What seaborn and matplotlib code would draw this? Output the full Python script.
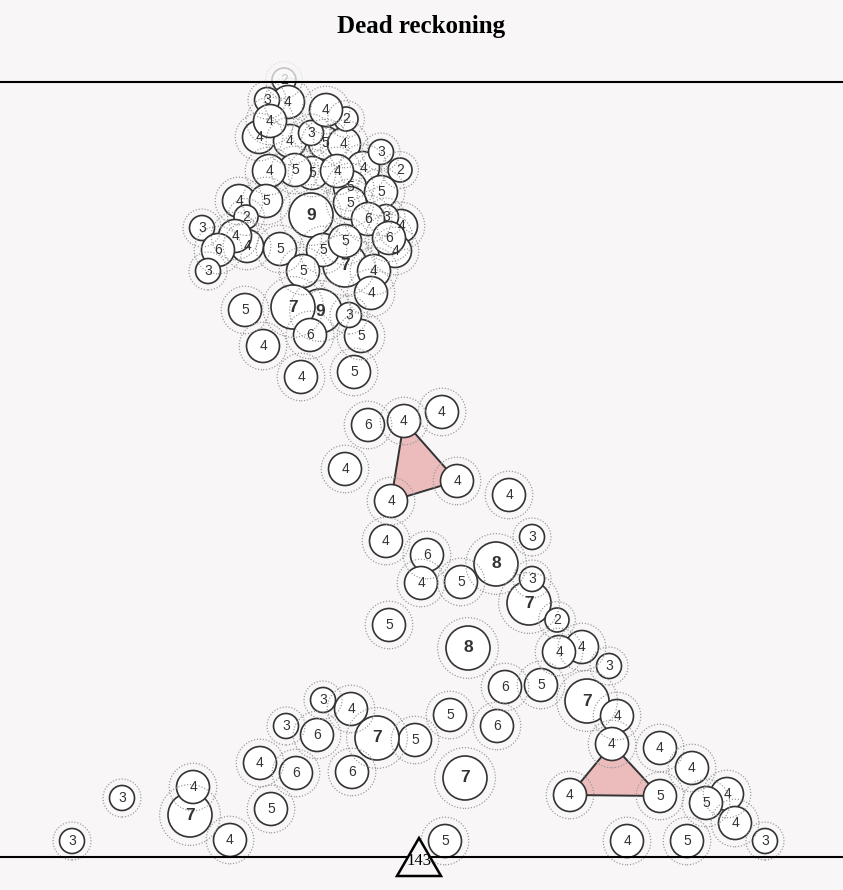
import pandas as pd
import matplotlib.pyplot as plt
import seaborn as sns
from matplotlib.patches import Polygon, Rectangle

# Данные: позиции кружков (в пикселях картинки) и их значения, в порядке отрисовки
xs = [284, 288, 267, 259, 290, 270, 325, 311, 344, 346, 326, 363, 381, 400, 312, 350,
      295, 269, 337, 381, 350, 239, 266, 311, 246, 247, 235, 202, 218, 208, 401, 395,
      386, 368, 389, 345, 280, 323, 345, 303, 374, 371, 245, 320, 293, 310, 361, 349,
      263, 301, 354,
      368, 404, 442, 345, 457, 391, 509, 386, 532, 427, 421, 461, 496, 529, 532, 557,
      389, 468, 582, 559, 609, 505, 541, 450, 497, 587, 617, 612, 660, 465, 570, 660,
      692, 727, 706, 735, 765, 627, 687,
      323, 351, 286, 317, 415, 377, 260, 296, 352, 122, 190, 193, 271, 72, 230, 445]
ys = [80, 102, 100, 137, 141, 121, 143, 133, 144, 119, 110, 168, 152, 170, 173, 187,
      170, 171, 171, 192, 203, 201, 201, 215, 217, 246, 236, 228, 250, 271, 226, 251,
      217, 219, 238, 265, 249, 250, 241, 271, 271, 293, 310, 311, 307, 335, 336, 315,
      346, 377, 372,
      425, 421, 412, 469, 481, 501, 495, 541, 537, 555, 583, 582, 564, 603, 579, 620,
      625, 648, 647, 652, 666, 687, 685, 715, 726, 701, 716, 744, 748, 778, 795, 796,
      768, 794, 803, 823, 841, 841, 841,
      700, 709, 726, 735, 740, 738, 763, 773, 772, 798, 815, 787, 809, 841, 840, 841]
vals = [2, 4, 3, 4, 4, 4, 5, 3, 4, 2, 4, 4, 3, 2, 5, 5,
        5, 4, 4, 5, 5, 4, 5, 9, 2, 4, 4, 3, 6, 3, 4, 4,
        3, 6, 6, 7, 5, 5, 5, 5, 4, 4, 5, 9, 7, 6, 5, 3,
        4, 4, 5,
        6, 4, 4, 4, 4, 4, 4, 4, 3, 6, 4, 5, 8, 7, 3, 2,
        5, 8, 4, 4, 3, 6, 5, 5, 6, 7, 4, 4, 4, 7, 4, 5,
        4, 4, 5, 4, 3, 4, 5,
        3, 4, 3, 6, 5, 7, 4, 6, 6, 3, 7, 4, 5, 3, 4, 5]

# треугольники — индексы кружков
triangles = [(52, 55, 56), (78, 81, 82)]

total_label = "143"
total_x = 419

df = pd.DataFrame({"x": xs, "y": ys, "val": vals})

bg = "#f8f6f7"
radius = {2: 12, 3: 12.5, 4: 16.5, 5: 16.5, 6: 16.5, 7: 22, 8: 22, 9: 22}
DPI = 100
to_pt = 72 / DPI
circle_sizes = {v: (2 * r * to_pt) ** 2 for v, r in radius.items()}
ring_sizes = {v: (2 * (r * 1.2 + 4) * to_pt) ** 2 for v, r in radius.items()}

sns.set_style("white")
fig = plt.figure(figsize=(8.43, 8.90), dpi=DPI, facecolor=bg)
ax = fig.add_axes([0, 0, 1, 1])
ax.set_facecolor(bg)
ax.set_xlim(0, 843)
ax.set_ylim(890, 0)
ax.axis("off")

# розовые треугольники под кружками
for tri in triangles:
    pts = [(xs[i], ys[i]) for i in tri]
    ax.add_patch(Polygon(pts, closed=True, facecolor="#ecbcbd",
                         edgecolor="#333333", linewidth=1.4, zorder=1))

# кружки
sns.scatterplot(data=df, x="x", y="y", size="val", sizes=circle_sizes,
                color="white", edgecolor="#333333", linewidth=1.2,
                legend=False, ax=ax, zorder=3)
# пунктирные кольца
sns.scatterplot(data=df, x="x", y="y", size="val", sizes=ring_sizes,
                color="none", edgecolor="#979797", linewidth=0.85,
                linestyle=(0, (1, 1.5)), legend=False, ax=ax, zorder=4)

for x, y, v in zip(xs, ys, vals):
    big = v >= 7
    ax.text(x, y, str(v), ha="center", va="center",
            fontsize=12.5 if big else 10, fontweight="semibold" if big else "normal",
            family="Liberation Sans", color="#333333", zorder=5)

# всё, что выше верхней линии, приглушаем
ax.add_patch(Rectangle((0, 0), 843, 81, facecolor=bg, alpha=0.75,
                       edgecolor="none", zorder=6))

ax.axhline(82, color="black", linewidth=1.5, zorder=7)
ax.axhline(857, color="black", linewidth=1.5, zorder=7)

# маркер с итогом
ax.add_patch(Polygon([(total_x, 838), (total_x - 22, 876), (total_x + 22, 876)],
                     closed=True, facecolor=bg, edgecolor="black",
                     linewidth=1.8, joinstyle="miter", zorder=8))
ax.text(total_x, 861, total_label, ha="center", va="center", fontsize=12,
        family="Liberation Serif", color="black", zorder=9)

fig.text(0.5, 1 - 26 / 890, "Dead reckoning", ha="center", va="center",
         family="Liberation Serif", fontweight="bold",
         fontsize=18, color="black")

fig.savefig("out.png", dpi=DPI, facecolor=bg)
